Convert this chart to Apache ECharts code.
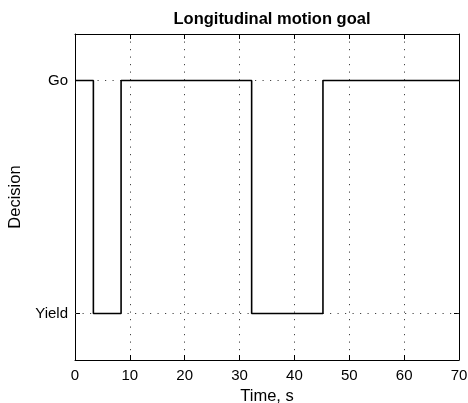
<!DOCTYPE html>
<html><head><meta charset="utf-8">
<script src="https://cdn.jsdelivr.net/npm/echarts@6/dist/echarts.min.js"></script>
<style>html,body{margin:0;padding:0;background:#fff}#c{width:468px;height:403px}</style>
</head><body><div id="c"></div>
<script>
var times = [0, 3.35, 8.4, 32.2, 45.2, 70];
var decisions = [1, 0, 1, 0, 1, 1];
var yTickValues = [0, 1];
var yTickLabels = ['Yield', 'Go'];

var font = 'Liberation Sans, Arial, Helvetica, sans-serif';
var chart = echarts.init(document.getElementById('c'));
var data = times.map(function (t, i) { return [t, decisions[i]]; });
var gridDot = { color: '#444', width: 1, type: [1.2, 6.3] };
var tickStyle = { color: '#000', width: 1 };
chart.setOption({
  animation: false,
  title: { text: 'Longitudinal motion goal', left: 267, top: 6, textAlign: 'center',
    textStyle: { fontFamily: font, fontSize: 16.5, fontWeight: 'bold', color: '#000' } },
  grid: { left: 75, right: 9, top: 34, bottom: 43, containLabel: false, outerBoundsMode: 'none' },
  xAxis: [{
    type: 'value', min: 0, max: 70, interval: 10,
    name: 'Time, s', nameLocation: 'middle', nameGap: 23,
    nameTextStyle: { fontFamily: font, fontSize: 16.5, color: '#000' },
    axisLine: { onZero: false, lineStyle: { color: '#000', width: 1 } },
    axisTick: { inside: true, length: 5, lineStyle: tickStyle },
    axisLabel: { fontFamily: font, fontSize: 15, color: '#000', margin: 8 },
    splitLine: { show: true, lineStyle: gridDot }
  }, {
    type: 'value', min: 0, max: 70, interval: 10, position: 'top',
    axisLine: { show: true, onZero: false, lineStyle: { color: '#000', width: 1 } },
    axisTick: { show: true, inside: true, length: 5, lineStyle: tickStyle },
    axisLabel: { show: false }, splitLine: { show: false }
  }],
  yAxis: [{
    type: 'value', min: -0.2, max: 1.2,
    name: 'Decision', nameLocation: 'middle', nameGap: 41,
    nameTextStyle: { fontFamily: font, fontSize: 16.5, color: '#000' },
    axisLine: { show: true, onZero: false, lineStyle: { color: '#000', width: 1 } },
    axisTick: { show: true, inside: true, length: 5, customValues: yTickValues, lineStyle: tickStyle },
    axisLabel: { fontFamily: font, fontSize: 15, color: '#000', margin: 7, customValues: yTickValues,
      formatter: function (v) { var i = yTickValues.indexOf(v); return i >= 0 ? yTickLabels[i] : ''; } },
    splitLine: { show: false }
  }, {
    type: 'value', min: -0.2, max: 1.2, position: 'right',
    axisLine: { show: true, onZero: false, lineStyle: { color: '#000', width: 1 } },
    axisTick: { show: true, inside: true, length: 5, customValues: yTickValues, lineStyle: tickStyle },
    axisLabel: { show: false }, splitLine: { show: false }
  }],
  series: [{
    type: 'line', step: 'end', data: data, symbol: 'none',
    lineStyle: { color: '#000', width: 1.6 },
    markLine: { silent: true, symbol: 'none', label: { show: false },
      lineStyle: gridDot,
      data: yTickValues.map(function (v) { return { yAxis: v }; }) },
    z: 5
  }]
});
</script></body></html>
